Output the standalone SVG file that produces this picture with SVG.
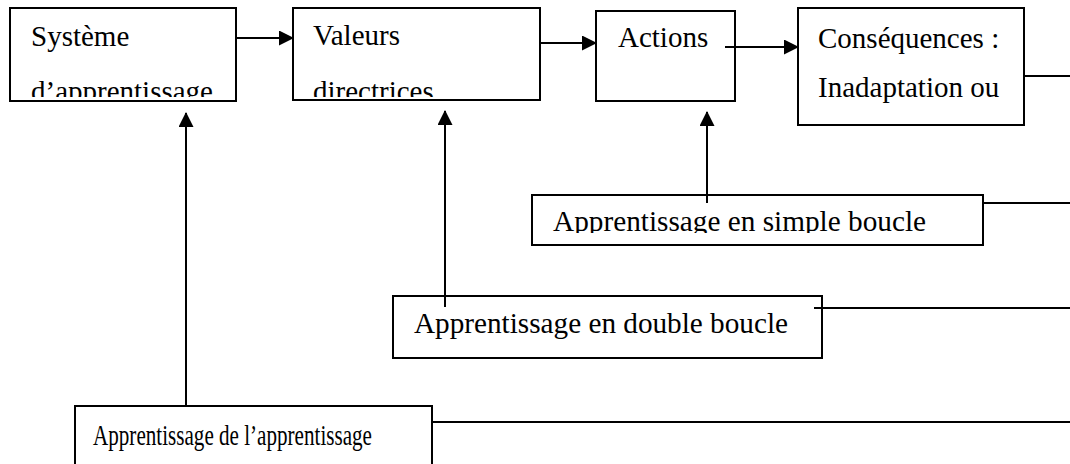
<svg xmlns="http://www.w3.org/2000/svg" width="1070" height="464" viewBox="0 0 1070 464">
<style>
.box{fill:#fff;stroke:#000;stroke-width:2}
.t{font-family:"Liberation Serif","Times New Roman",serif;font-size:29px;fill:#000}
.ln{stroke:#000;stroke-width:2;fill:none}
</style>
<defs>
<marker id="ah" markerWidth="16" markerHeight="16" refX="14" refY="7.5" orient="auto" markerUnits="userSpaceOnUse">
<path d="M0,0 L15,7.5 L0,15 Z" fill="#000"/>
</marker>
<clipPath id="c1"><rect x="10" y="8" width="226" height="89"/></clipPath>
<clipPath id="c2"><rect x="293" y="8" width="247" height="89"/></clipPath>
<clipPath id="c5"><rect x="532" y="195" width="451" height="38"/></clipPath>
</defs>
<rect width="1070" height="464" fill="#fff"/>
<g id="n1">
<rect class="box" x="10" y="8" width="226" height="93"/>
<g clip-path="url(#c1)">
<text class="t" x="31" y="46">Système</text>
<text class="t" x="31" y="101">d’apprentissage</text>
</g>
</g>
<g id="n2">
<rect class="box" x="293" y="8" width="247" height="92"/>
<g clip-path="url(#c2)">
<text class="t" x="313" y="45">Valeurs</text>
<text class="t" x="313" y="101">directrices</text>
</g>
</g>
<g id="n3">
<rect class="box" x="596" y="11" width="139" height="90"/>
<text class="t" x="618" y="47">Actions</text>
</g>
<g id="n4">
<rect class="box" x="798" y="8" width="226" height="117"/>
<text class="t" x="818" y="48">Conséquences :</text>
<text class="t" x="818" y="97">Inadaptation ou</text>
</g>
<g id="n5">
<rect class="box" x="532" y="195" width="451" height="50"/>
<g clip-path="url(#c5)">
<text class="t" x="553" y="231" textLength="373" lengthAdjust="spacingAndGlyphs">Apprentissage en simple boucle</text>
</g>
</g>
<g id="n6">
<rect class="box" x="393" y="296" width="429" height="62"/>
<text class="t" x="414" y="333" textLength="374" lengthAdjust="spacingAndGlyphs">Apprentissage en double boucle</text>
</g>
<g id="n7">
<rect class="box" x="75" y="406" width="357" height="62"/>
<text class="t" x="93" y="445" textLength="279" lengthAdjust="spacingAndGlyphs">Apprentissage de l’apprentissage</text>
</g>
<g id="connectors">
<line class="ln" x1="236" y1="38" x2="293" y2="38" marker-end="url(#ah)"/>
<line class="ln" x1="540" y1="43" x2="596" y2="43" marker-end="url(#ah)"/>
<line class="ln" x1="725" y1="47" x2="798" y2="47" marker-end="url(#ah)"/>
<line class="ln" x1="707" y1="203" x2="707" y2="112" marker-end="url(#ah)"/>
<line class="ln" x1="445" y1="307" x2="445" y2="111" marker-end="url(#ah)"/>
<line class="ln" x1="186" y1="406" x2="186" y2="113" marker-end="url(#ah)"/>
<line class="ln" x1="1024" y1="76" x2="1070" y2="76"/>
<line class="ln" x1="983" y1="203" x2="1070" y2="203"/>
<line class="ln" x1="814" y1="308" x2="1070" y2="308"/>
<line class="ln" x1="432" y1="422" x2="1070" y2="422"/>
</g>
</svg>
